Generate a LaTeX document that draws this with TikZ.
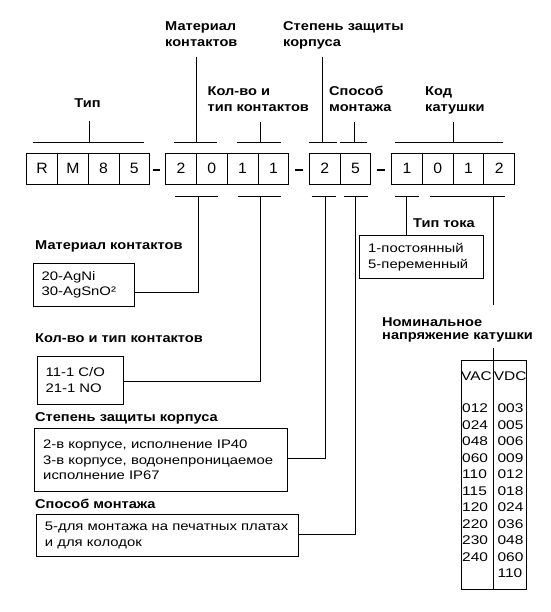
\documentclass[tikz,border=0pt]{standalone}
\usepackage{fontspec}
\setmainfont{Liberation Sans}
\newfontfamily\regf[FakeStretch=1.2]{Liberation Sans}
\newfontfamily\labf[FakeStretch=1.14]{Liberation Sans}
\newfontfamily\tabf[FakeStretch=1.23]{Liberation Sans}
\newfontfamily\cellf[FakeStretch=1.05]{Liberation Sans}
\tikzset{
  conn/.style={line width=0.8pt, draw=black},
  lbl/.style={font={\labf\bfseries\fontsize{12.8}{16.5}\selectfont}, inner sep=0pt, anchor=base west},
  tbox/.style={draw=black, line width=0.8pt, inner xsep=8.5pt, inner ysep=0pt, align=left, anchor=north west,
    font={\regf\fontsize{12.4}{15.5}\selectfont}},
  cell/.style={draw=black, line width=0.8pt, minimum width=30.75pt, minimum height=31pt, inner sep=0pt,
    font={\cellf\fontsize{15}{17}\selectfont}},
  tcol/.style={draw=black, line width=0.8pt, minimum width=32.6pt, minimum height=229pt, inner sep=0pt, anchor=north west},
  ttxt/.style={font={\tabf\fontsize{12.6}{15}\selectfont}, inner sep=0pt, anchor=base west},
}
\begin{document}
\begin{tikzpicture}[x=1pt, y=-1pt]
\useasboundingbox[fill=white] (0,0) rectangle (550,612);

% ---- code cells ----
\foreach \c [count=\i from 0] in {R,M,8,5} \node[cell] (g1c\i) at ({42.125+30.75*\i},168.5) {\c};
\foreach \c [count=\i from 0] in {2,0,1,1} \node[cell] (g2c\i) at ({181.125+30.75*\i},168.5) {\c};
\foreach \c [count=\i from 0] in {2,5} \node[cell] (g3c\i) at ({324.625+30.75*\i},168.5) {\c};
\foreach \c [count=\i from 0] in {1,0,1,2} \node[cell] (g4c\i) at ({406.875+30.75*\i},168.5) {\c};

% dashes
\fill (152.5,169) rectangle (159.5,171.5);
\fill (295,169) rectangle (303,171.5);
\fill (377,169) rectangle (385,171.5);

% ---- top labels ----
\node[lbl, anchor=base] (lTip) at (87.5,107.8) {Тип};
\node[lbl] (lMat1) at (165,30.3) {Материал};
\node[lbl] (lMat2) at (165,47) {контактов};
\node[lbl] (lSt1) at (283,30.3) {Степень защиты};
\node[lbl] (lSt2) at (283,47) {корпуса};
\node[lbl] (lKol1) at (207.5,96) {Кол-во и};
\node[lbl] (lKol2) at (207.5,112) {тип контактов};
\node[lbl] (lSp1) at (329,96) {Способ};
\node[lbl] (lSp2) at (329,112) {монтажа};
\node[lbl] (lKod1) at (425,96) {Код};
\node[lbl] (lKod2) at (425,112) {катушки};

% top brackets
\foreach \a/\b/\m/\t [count=\k] in {33.3/144/89.3/121, 174/217.3/196.7/56.7, 237.3/280.7/260/121.7,
    309.3/336.7/322.7/56.7, 340/367.3/354/121.7, 395/503.3/453.3/121.7}{
  \coordinate (ta\k) at (\a,142.5);
  \coordinate (tb\k) at (\b,142.5);
  \coordinate (tm\k) at (\m,142.5);
  \coordinate (tt\k) at (\m,\t);
  \draw[conn] (ta\k) -- (tb\k);
  \draw[conn] (tm\k) -- (tt\k);
}

% ---- left side labels and boxes ----
\node[lbl] (hMat) at (35,249) {Материал контактов};
\node[tbox, text width=84.6pt, minimum height=43.3pt] (bMat) at (32.7,262.7) {20-AgNi\\30-AgSnO²};

\node[lbl] (hKol) at (35,342.3) {Кол-во и тип контактов};
\node[tbox, text width=69.6pt, minimum height=48.3pt] (bKol) at (36.7,355.7) {11-1 C/O\\21-1 NO};

\node[lbl] (hSt) at (35,421.7) {Степень защиты корпуса};
\node[tbox, text width=235.4pt, minimum height=62.4pt] (bSt) at (34.3,428.3)
  {2-в корпусе, исполнение IP40\\3-в корпусе, водонепроницаемое\\исполнение IP67};

\node[lbl] (hSp) at (35,508.3) {Способ монтажа};
\node[tbox, text width=244.7pt, minimum height=41.7pt] (bSp) at (36,514.3)
  {5-для монтажа на печатных платах\\и для колодок};

% ---- right side ----
\node[lbl] (hTok) at (413,227.3) {Тип тока};
\node[tbox, text width=106.4pt, minimum height=43.3pt] (bTok) at (359.3,235) {1-постоянный\\5-переменный};

\node[lbl] (hNom1) at (382,326) {Номинальное};
\node[lbl] (hNom2) at (382,339.5) {напряжение катушки};

\node[tcol] (tabL) at (460.7,360) {};
\node[tcol] (tabR) at (493.3,360) {};
\node[ttxt] (vac) at (460.9,380.5) {VAC};
\node[ttxt] (vdc) at (493.6,380.5) {VDC};
\foreach \a/\b [count=\i from 0] in {012/003,024/005,048/006,060/009,110/012,115/018,120/024,220/036,230/048,240/060}{
  \node[ttxt] (vl\i) at (462,{412.5+16.5*\i}) {\a};
  \node[ttxt] (vr\i) at (497.4,{412.5+16.5*\i}) {\b};
}
\node[ttxt] (vr10) at (497.4,577.5) {110};

% ---- bottom brackets and connectors ----
\foreach \a/\b/\m [count=\k] in {175/218/198.3, 237.7/281/260, 311.7/335.7/325, 344.3/368.3/355.7, 395/419.3/406.7, 430/505/493.3}{
  \coordinate (ba\k) at (\a,196.7);
  \coordinate (bb\k) at (\b,196.7);
  \coordinate (bm\k) at (\m,196.7);
  \draw[conn] (ba\k) -- (bb\k);
}
\coordinate (eMat) at (134.3,292.7);
\coordinate (eKol) at (123.3,381.7);
\coordinate (eSt) at (286.7,458.5);
\coordinate (eSp) at (297.7,534);
\draw[conn] (bm1) |- (eMat);
\draw[conn] (bm2) |- (eKol);
\draw[conn] (bm3) |- (eSt);
\draw[conn] (bm4) |- (eSp);
\draw[conn] (bm5) -- (bm5 |- bTok.north);
\coordinate (nomTop) at (493.3,305);
\coordinate (nomLow) at (493.3,348.3);
\draw[conn] (bm6) -- (nomTop);
\draw[conn] (nomLow) -- (tabR.north west);
\end{tikzpicture}
\end{document}
